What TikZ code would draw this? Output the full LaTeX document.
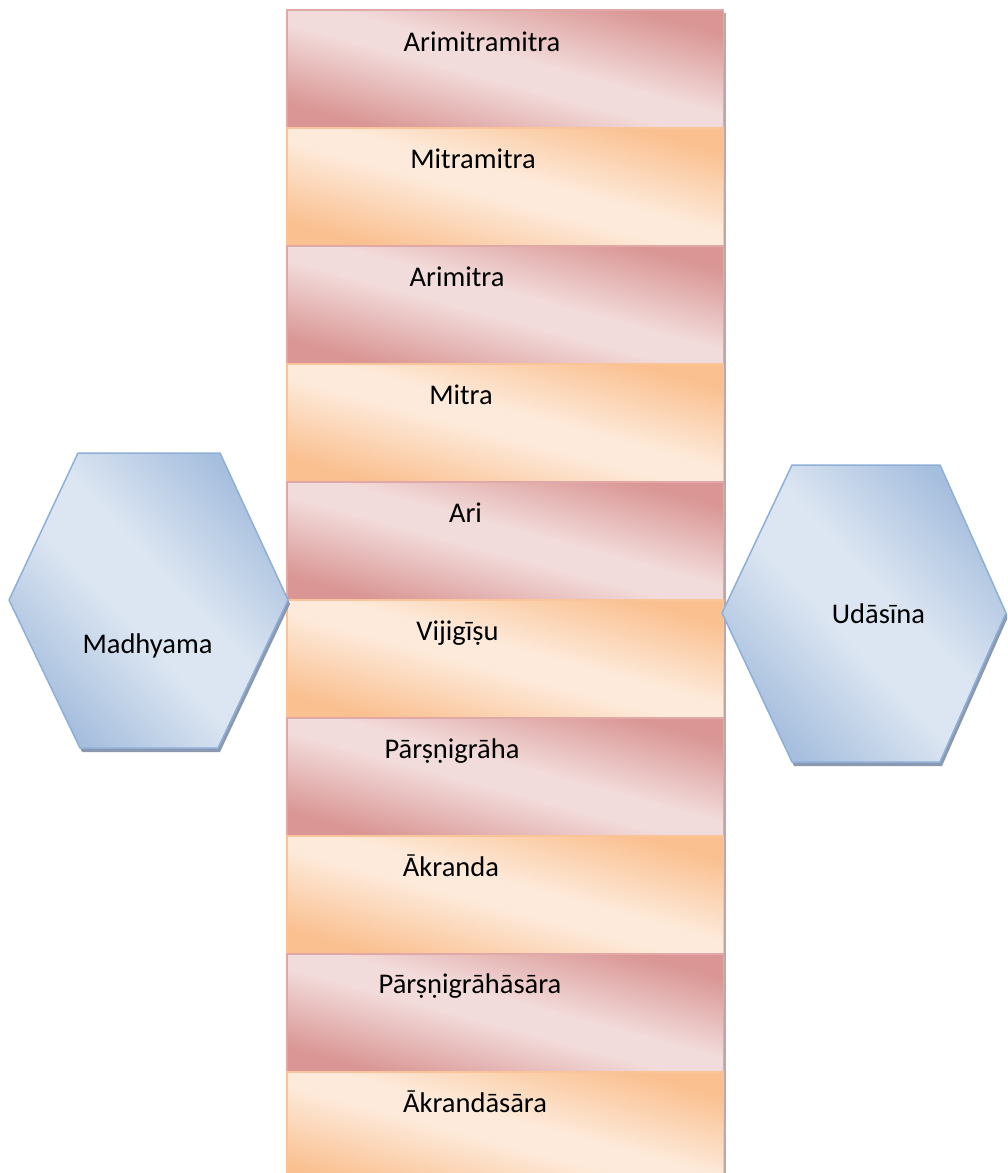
\documentclass[tikz,border=0pt]{standalone}
\usepackage{fontspec}
\setmainfont{Carlito}
\usetikzlibrary{shadows}
\definecolor{rdark}{HTML}{D99694}
\definecolor{rlight}{HTML}{F2DCDB}
\definecolor{odark}{HTML}{FAC090}
\definecolor{olight}{HTML}{FDEADA}
\definecolor{bdark}{HTML}{A7BFDE}
\definecolor{blight}{HTML}{DCE6F2}
\definecolor{rborder}{HTML}{E0A8A6}
\definecolor{oborder}{HTML}{F9C49A}
\definecolor{bborder}{HTML}{8EAFD8}
\definecolor{hshadow}{HTML}{7E8FA8}
\pgfdeclareverticalshading{redsh}{100bp}{color(0bp)=(rdark); color(22bp)=(rdark); color(46bp)=(rlight); color(54bp)=(rlight); color(78bp)=(rdark); color(100bp)=(rdark)}
\pgfdeclareverticalshading{orsh}{100bp}{color(0bp)=(odark); color(22bp)=(odark); color(46bp)=(olight); color(54bp)=(olight); color(78bp)=(odark); color(100bp)=(odark)}
\pgfdeclareverticalshading{blsh}{100bp}{color(0bp)=(bdark); color(25bp)=(bdark); color(45bp)=(blight); color(55bp)=(blight); color(75bp)=(bdark); color(100bp)=(bdark)}
\tikzset{
  boxbase/.style={rectangle, minimum width=436pt, minimum height=118pt, inner sep=0pt,
    drop shadow={shadow xshift=3pt, shadow yshift=-3pt, opacity=0.35, fill=black!70!red}},
  boxline/.style={line width=1.4pt},
  hexshadow/.style={drop shadow={shadow xshift=2pt, shadow yshift=-4pt, opacity=0.9, fill=hshadow}},
  hexline/.style={draw=bborder, line width=1.5pt, line join=round},
  lbl/.style={anchor=base, inner sep=0pt, font=\fontsize{28.5}{34}\selectfont, text=black}
}
% diagonal gradient inside the current clip: #1 centre coordinate, #2 width, #3 height, #4 shading
\newcommand{\diagshade}[4]{%
  \pgftransformshift{\pgfpointanchor{#1}{center}}%
  \pgftransformxscale{#2/50.1875}%
  \pgftransformyscale{#3/50.1875}%
  \pgftransformrotate{-45}%
  \pgflowlevelsynccm
  \pgftext{\pgfuseshading{#4}}%
}
\begin{document}
\begin{tikzpicture}[x=1pt,y=-1pt]
\useasboundingbox (0,0) rectangle (1007,1173);
\clip (0,0) rectangle (1007,1173);
\fill[white] (0,0) rectangle (1007,1173);
% column of boxes
\foreach \i/\yc/\sh/\bc in {1/69/redsh/rborder, 2/187/orsh/oborder, 3/305/redsh/rborder, 4/423/orsh/oborder, 5/541/redsh/rborder, 6/659/orsh/oborder, 7/777/redsh/rborder, 8/895/orsh/oborder, 9/1013/redsh/rborder, 10/1131/orsh/oborder}{
  \node[boxbase] (b\i) at (505,\yc) {};
  \begin{scope}
    \clip (b\i.south west) rectangle (b\i.north east);
    \diagshade{b\i}{436}{118}{\sh}
  \end{scope}
  \draw[boxline, draw=\bc] (b\i.south west) rectangle (b\i.north east);
}
% labels
\node[lbl] (t1) at (482,51) {Arimitramitra};
\node[lbl] (t2) at (473,168.5) {Mitramitra};
\node[lbl] (t3) at (457,286.5) {Arimitra};
\node[lbl] (t4) at (461,404.5) {Mitra};
\node[lbl] (t5) at (465.5,522.5) {Ari};
\node[lbl] (t6) at (457.5,640.5) {Vijigīṣu};
\node[lbl] (t7) at (452,758.5) {Pārṣṇigrāha};
\node[lbl] (t8) at (451,876.5) {Ākranda};
\node[lbl] (t9) at (470,993.5) {Pārṣṇigrāhāsāra};
\node[lbl] (t10) at (475,1112) {Ākrandāsāra};
% left hexagon
\coordinate (hl) at (148.5,600.5);
\path[hexshadow] (9,600) -- (78,453) -- (220,453) -- (288,600) -- (218,748) -- (80,748) -- cycle;
\begin{scope}
  \clip (9,600) -- (78,453) -- (220,453) -- (288,600) -- (218,748) -- (80,748) -- cycle;
  \diagshade{hl}{279}{295}{blsh}
\end{scope}
\path[hexline] (9,600) -- (78,453) -- (220,453) -- (288,600) -- (218,748) -- (80,748) -- cycle;
\node[lbl] (madhyama) at (147.5,653) {Madhyama};
% right hexagon
\coordinate (hr) at (864,613.5);
\path[hexshadow] (722,613) -- (792,465) -- (940,465) -- (1006,613) -- (940,762) -- (792,762) -- cycle;
\begin{scope}
  \clip (722,613) -- (792,465) -- (940,465) -- (1006,613) -- (940,762) -- (792,762) -- cycle;
  \diagshade{hr}{284}{297}{blsh}
\end{scope}
\path[hexline] (722,613) -- (792,465) -- (940,465) -- (1006,613) -- (940,762) -- (792,762) -- cycle;
\node[lbl] (udasina) at (878.5,623) {Udāsīna};
\end{tikzpicture}
\end{document}
